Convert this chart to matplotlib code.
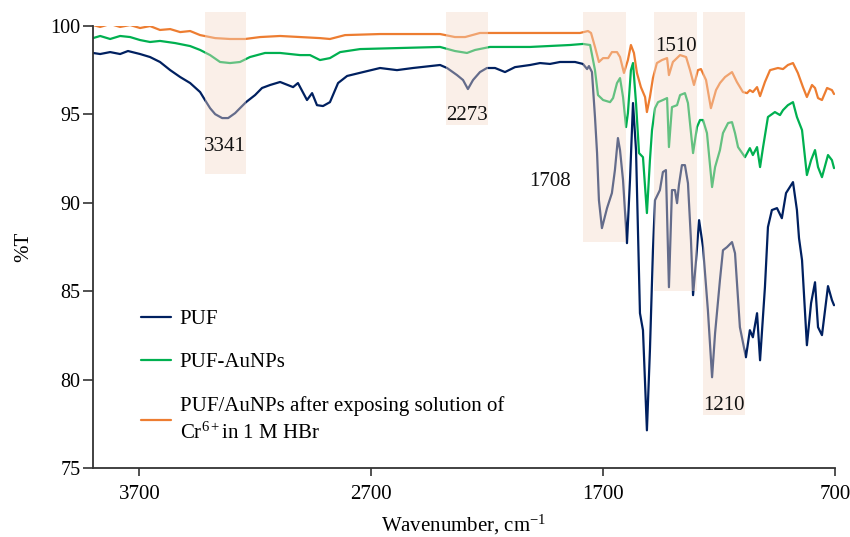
import matplotlib
matplotlib.use("Agg")
import matplotlib.pyplot as plt
from matplotlib.patches import Rectangle

plt.rcParams['font.family'] = ['Liberation Serif', 'DejaVu Serif']
plt.rcParams['mathtext.fontset'] = 'custom'
plt.rcParams['mathtext.rm'] = 'Liberation Serif'
plt.rcParams['mathtext.it'] = 'Liberation Serif:italic'

# PUF spectrum (wavenumber, %T)
puf_wn = [3900, 3869, 3826, 3783, 3749, 3697, 3654, 3611, 3567, 3524, 3481, 3438, 3417, 3395,
          3373, 3343, 3317, 3287, 3266, 3240, 3201, 3171, 3136, 3093, 3037, 3016, 2977, 2955,
          2934, 2908, 2878, 2843, 2804, 2735, 2662, 2589, 2520, 2403, 2373, 2330, 2304, 2283,
          2261, 2231, 2201, 2166, 2123, 2080, 2015, 1972, 1929, 1886, 1821, 1787, 1769, 1761,
          1748, 1735, 1726, 1718, 1705, 1683, 1662, 1649, 1636, 1627, 1614, 1597, 1584, 1571,
          1558, 1541, 1528, 1511, 1498, 1485, 1476, 1455, 1442, 1429, 1416, 1403, 1390, 1381,
          1373, 1360, 1347, 1334, 1321, 1312, 1299, 1286, 1269, 1248, 1230, 1217, 1196, 1183,
          1166, 1144, 1131, 1110, 1084, 1067, 1054, 1036, 1023, 1002, 989, 972, 950, 929, 911,
          881, 864, 855, 842, 821, 803, 786, 773, 756, 730, 713, 704]
puf_t = [98.46, 98.40, 98.51, 98.40, 98.57, 98.40, 98.23, 97.95, 97.49, 97.10, 96.76, 96.25, 95.80, 95.34,
         95.00, 94.78, 94.78, 95.06, 95.34, 95.68, 96.08, 96.48, 96.65, 96.82, 96.53, 96.76, 95.80, 96.19,
         95.51, 95.46, 95.68, 96.76, 97.16, 97.38, 97.61, 97.49, 97.61, 97.78, 97.61, 97.21, 96.93, 96.42,
         96.93, 97.38, 97.61, 97.61, 97.38, 97.66, 97.78, 97.89, 97.84, 97.95, 97.95, 97.84, 97.55, 97.72,
         97.38, 94.84, 92.80, 90.14, 88.56, 89.69, 90.54, 91.84, 93.65, 92.97, 91.27, 87.71, 91.27, 95.63,
         92.97, 83.75, 82.79, 77.13, 81.66, 87.31, 90.14, 90.71, 91.73, 91.84, 85.22, 90.71, 90.71, 89.97,
         90.99, 92.12, 92.12, 91.10, 87.88, 84.77, 86.75, 89.01, 87.48, 83.92, 80.13, 82.62, 85.62, 87.31,
         87.48, 87.77, 87.14, 82.96, 81.26, 82.79, 82.39, 83.75, 81.09, 85.22, 88.62, 89.58, 89.69, 89.12, 90.54,
         91.16, 89.58, 87.99, 86.75, 81.94, 84.32, 85.50, 82.96, 82.51, 85.28, 84.49, 84.20]

# PUF-AuNPs spectrum
aunp_wn = [3900, 3869, 3826, 3783, 3740, 3697, 3654, 3611, 3546, 3481, 3438, 3395, 3352, 3309,
           3266, 3223, 3158, 3093, 3007, 2964, 2921, 2878, 2834, 2748, 2576, 2403, 2339, 2287,
           2252, 2188, 2015, 1843, 1787, 1756, 1735, 1722, 1700, 1670, 1657, 1640, 1627, 1614,
           1601, 1593, 1580, 1571, 1558, 1545, 1528, 1511, 1498, 1489, 1476, 1463, 1442, 1424,
           1416, 1403, 1381, 1368, 1347, 1334, 1312, 1295, 1282, 1269, 1252, 1230, 1217, 1196,
           1183, 1161, 1144, 1131, 1118, 1088, 1067, 1054, 1036, 1023, 1010, 989, 959, 937, 924,
           903, 881, 864, 842, 821, 803, 786, 773, 756, 730, 713, 704]
aunp_t = [99.30, 99.42, 99.25, 99.42, 99.36, 99.19, 99.08, 99.14, 99.02, 98.85, 98.63, 98.34, 97.95, 97.89,
          97.95, 98.23, 98.46, 98.46, 98.34, 98.34, 98.06, 98.17, 98.51, 98.68, 98.74, 98.80, 98.57, 98.46,
          98.63, 98.80, 98.80, 98.91, 98.97, 98.91, 97.49, 96.08, 95.80, 95.68, 95.91, 96.76, 97.04, 95.97,
          94.27, 95.06, 97.49, 97.89, 95.63, 92.80, 92.57, 89.41, 92.40, 94.10, 95.34, 95.68, 95.80, 95.91,
          93.14, 95.40, 95.51, 96.08, 96.19, 95.63, 92.80, 94.27, 94.67, 94.67, 93.93, 90.88, 92.01, 92.97,
          93.93, 94.50, 94.55, 93.93, 93.14, 92.57, 93.08, 92.69, 93.14, 92.01, 93.14, 94.84, 95.12, 94.95, 95.23,
          95.51, 95.68, 94.84, 94.10, 91.56, 92.40, 92.97, 92.01, 91.44, 92.69, 92.40, 91.95]

# PUF/AuNPs after Cr(VI) in HBr
cr_wn = [3900, 3869, 3826, 3783, 3740, 3697, 3654, 3611, 3567, 3524, 3481, 3438, 3373, 3309,
         3244, 3179, 3093, 3007, 2921, 2878, 2813, 2662, 2403, 2339, 2295, 2231, 2058, 1800,
         1765, 1752, 1735, 1718, 1700, 1678, 1662, 1640, 1627, 1610, 1593, 1580, 1567, 1554,
         1537, 1519, 1511, 1498, 1485, 1468, 1446, 1424, 1416, 1399, 1368, 1342, 1325, 1308,
         1291, 1278, 1256, 1235, 1213, 1196, 1174, 1144, 1123, 1097, 1079, 1067, 1054, 1036,
         1023, 1002, 980, 946, 924, 903, 881, 860, 838, 821, 799, 786, 773, 756, 734, 713, 704]
cr_t = [100.04, 99.93, 100.10, 99.93, 100.04, 99.87, 99.98, 99.76, 99.81, 99.64, 99.70, 99.47, 99.30, 99.25,
        99.25, 99.36, 99.42, 99.36, 99.30, 99.25, 99.47, 99.53, 99.53, 99.36, 99.36, 99.59, 99.59, 99.59,
        99.70, 99.59, 98.80, 97.95, 98.17, 98.17, 98.51, 98.51, 98.23, 97.33, 98.06, 98.91, 98.46, 97.33,
        96.53, 95.97, 95.12, 95.97, 97.04, 97.89, 98.06, 98.17, 97.21, 97.95, 98.34, 98.23, 97.49, 96.65,
        97.49, 97.55, 96.93, 95.34, 96.36, 96.76, 97.10, 97.38, 96.82, 96.25, 96.19, 96.36, 96.25, 96.53,
        96.02, 96.82, 97.49, 97.61, 97.55, 97.78, 97.89, 97.33, 96.53, 95.97, 96.65, 96.48, 95.91, 95.80,
        96.48, 96.36, 96.14]

labels = ['PUF', 'PUF-AuNPs',
          'PUF/AuNPs after exposing solution of\nCr$^{6+}$in 1 M HBr']

# highlighted bands: (high wn, low wn, bottom %T), peak label and its place
bands = [(3417, 3240, 91.6), (2377, 2196, 94.4), (1787, 1601, 87.8),
         (1480, 1295, 85.0), (1269, 1088, 78.0)]
peaks = ['3341', '2273', '1708', '1510', '1210']
peak_pos = [(3330, 93.15), (2287, 94.9), (1929, 91.2), (1386, 98.85), (1179, 78.55)]

fig = plt.figure(figsize=(8.5, 5.37), dpi=100)
ax = fig.add_axes([0.1094, 0.1285, 0.8729, 0.8236])

kw = dict(lw=1.6, solid_joinstyle='round', solid_capstyle='round')
ax.plot(puf_wn, puf_t, color='#002060', label=labels[0], **kw)
ax.plot(aunp_wn, aunp_t, color='#00B050', label=labels[1], **kw)
ax.plot(cr_wn, cr_t, color='#ED7D31', label=labels[2], **kw)

for (hi, lo, bot) in bands:
    r = Rectangle((lo, bot), hi - lo, 100.78 - bot, facecolor=(245/255, 218/255, 201/255),
                  alpha=0.41, edgecolor='none', zorder=3, clip_on=False)
    ax.add_patch(r)

for txt, (x, y) in zip(peaks, peak_pos):
    ax.text(x, y, txt, ha='center', va='center', fontsize=15, color='#111111', zorder=4)

ax.set_xlim(3900, 700)
ax.set_ylim(75, 100)
ax.set_xticks([3700, 2700, 1700, 700])
ax.set_yticks([75, 80, 85, 90, 95, 100])
ax.spines['top'].set_visible(False)
ax.spines['right'].set_visible(False)
for s in ['left', 'bottom']:
    ax.spines[s].set_color('#333333')
    ax.spines[s].set_linewidth(1.3)
ax.tick_params(axis='y', length=7, width=1.2, color='#333333', pad=2, labelsize=14.5)
ax.tick_params(axis='x', length=6, width=1.2, color='#333333', pad=6, labelsize=15)

ax.set_xlabel('Wavenumber, cm$^{-1}$', fontsize=15, labelpad=7)
ax.set_ylabel('%T', fontsize=15, labelpad=12)

leg = ax.legend(loc='upper left', bbox_to_anchor=(0.166, 0.423), bbox_transform=fig.transFigure,
                frameon=False, fontsize=15, borderpad=0, borderaxespad=0, handlelength=1.45,
                handletextpad=0.4, labelspacing=1.12)
leg.get_texts()[2].set_linespacing(1.45)

fig.savefig('out.png', dpi=100)
